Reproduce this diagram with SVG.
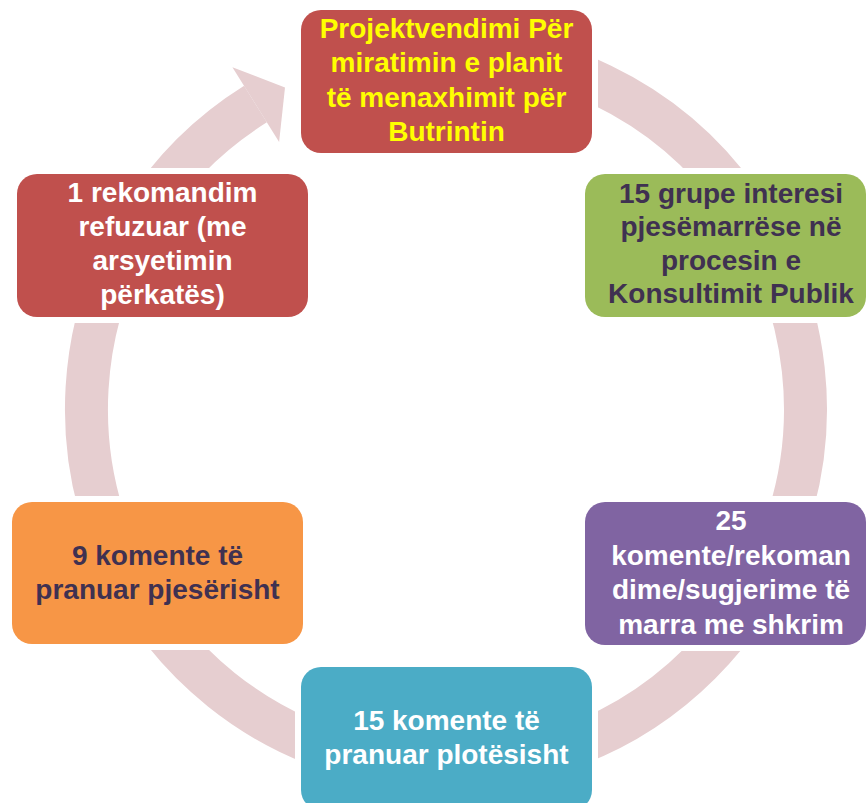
<svg xmlns="http://www.w3.org/2000/svg" width="867" height="803" viewBox="0 0 867 803">
  <style>
    .box { stroke: #ffffff; stroke-width: 12; paint-order: stroke; }
    .t { font-family: "Liberation Sans", Arial, sans-serif; font-weight: bold; font-size: 28px; text-anchor: middle; }
    .light { fill: #ffffff; }
    .dark { fill: #3F3151; }
    .yellow { fill: #FFFF00; }
    .ring { fill: none; stroke: #E6CED0; stroke-width: 43; }
  </style>
  <rect x="0" y="0" width="867" height="803" fill="#ffffff"/>
  <g id="connectors">
    <path class="ring" d="M 446 49.5 A 359.5 359.5 0 1 1 255.5 104.1"/>
    <polygon points="232.4,67.3 285,87.5 279.1,141.9" fill="#E6CED0"/>
  </g>
  <g id="node-top">
    <rect class="box" x="301" y="10" width="291" height="143" rx="20" fill="#C0504D"/>
    <text class="t yellow" x="446.5" y="37.5">Projektvendimi Për</text>
    <text class="t yellow" x="446.5" y="72">miratimin e planit</text>
    <text class="t yellow" x="446.5" y="106.5">të menaxhimit për</text>
    <text class="t yellow" x="446.5" y="141">Butrintin</text>
  </g>
  <g id="node-groups">
    <rect class="box" x="585" y="174" width="281" height="143" rx="20" fill="#9BBB59"/>
    <text class="t dark" x="731" y="202.5">15 grupe interesi</text>
    <text class="t dark" x="731" y="236">pjesëmarrëse në</text>
    <text class="t dark" x="731" y="269.5">procesin e</text>
    <text class="t dark" x="731" y="303">Konsultimit Publik</text>
  </g>
  <g id="node-comments">
    <rect class="box" x="585" y="502" width="281" height="143" rx="20" fill="#8064A2"/>
    <text class="t light" x="731" y="530">25</text>
    <text class="t light" x="731" y="564.5">komente/rekoman</text>
    <text class="t light" x="731" y="599">dime/sugjerime të</text>
    <text class="t light" x="731" y="633.5">marra me shkrim</text>
  </g>
  <g id="node-accepted-full">
    <rect class="box" x="301" y="667" width="291" height="143" rx="20" fill="#4BACC6"/>
    <text class="t light" x="446.5" y="730">15 komente të</text>
    <text class="t light" x="446.5" y="764">pranuar plotësisht</text>
  </g>
  <g id="node-accepted-partial">
    <rect class="box" x="12" y="502" width="291" height="142" rx="20" fill="#F79646"/>
    <text class="t dark" x="157.5" y="565">9 komente të</text>
    <text class="t dark" x="157.5" y="598.5">pranuar pjesërisht</text>
  </g>
  <g id="node-refused">
    <rect class="box" x="17" y="174" width="291" height="143" rx="20" fill="#C0504D"/>
    <text class="t light" x="162.5" y="202">1 rekomandim</text>
    <text class="t light" x="162.5" y="236">refuzuar (me</text>
    <text class="t light" x="162.5" y="270">arsyetimin</text>
    <text class="t light" x="162.5" y="304">përkatës)</text>
  </g>
</svg>
